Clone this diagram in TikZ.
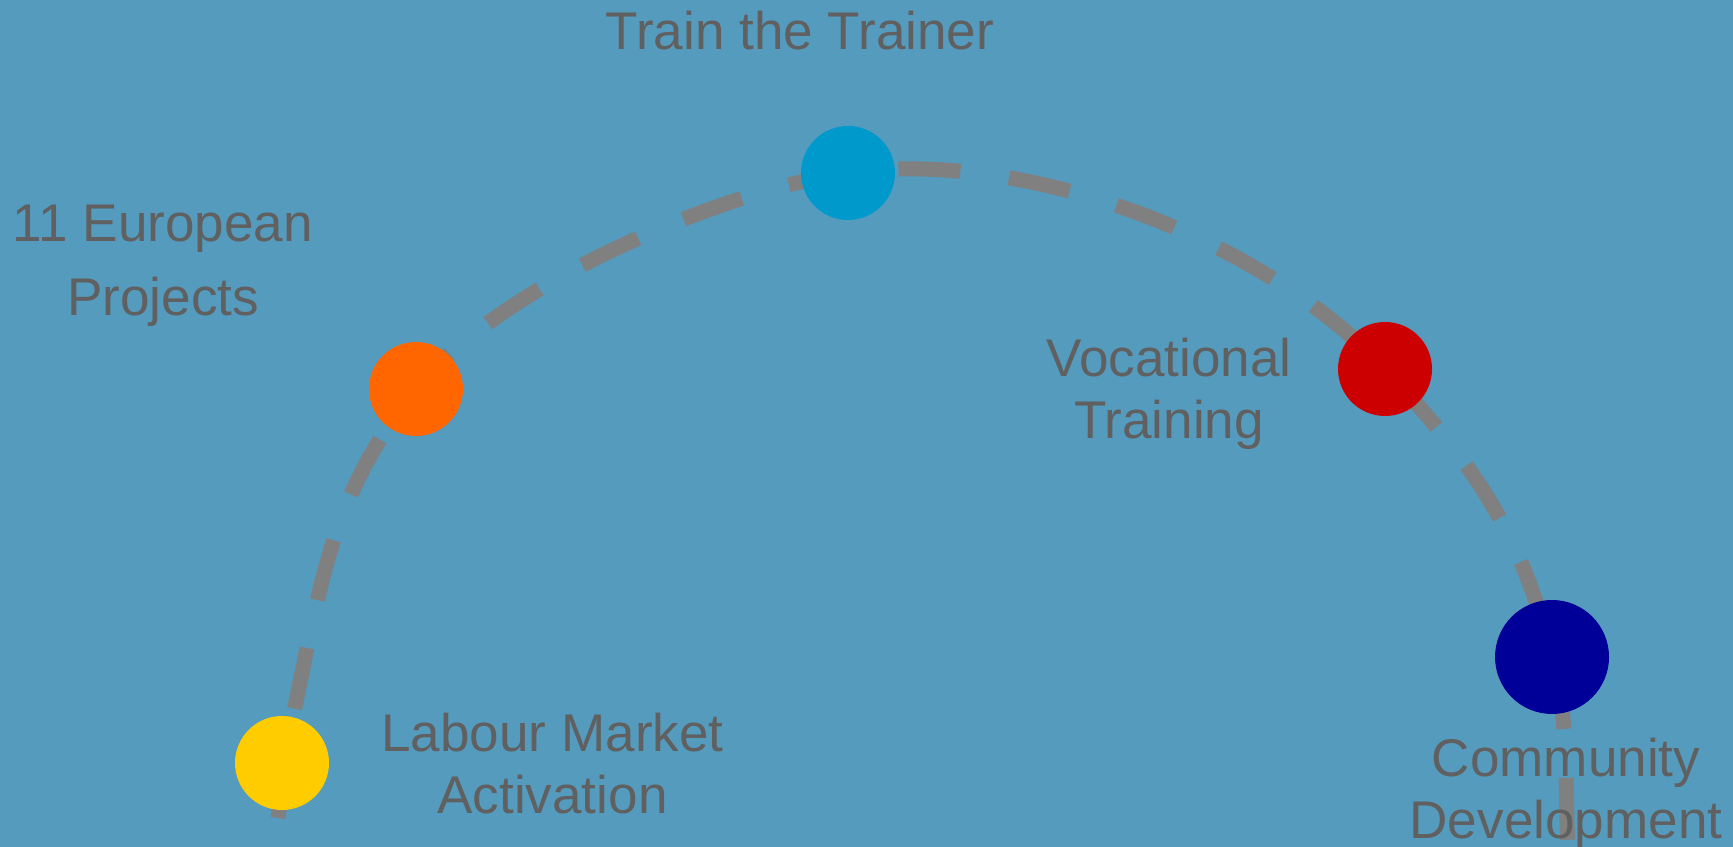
\documentclass[tikz,border=0pt]{standalone}
\usepackage{fontspec}
\setmainfont{Liberation Sans}
\usetikzlibrary{backgrounds}

\definecolor{skyback}{HTML}{559BBE}
\definecolor{labelgrey}{HTML}{606060}
\definecolor{trailgrey}{HTML}{808080}
\definecolor{dotyellow}{HTML}{FFCC00}
\definecolor{dotorange}{HTML}{FF6600}
\definecolor{dotcyan}{HTML}{0099CC}
\definecolor{dotred}{HTML}{CC0000}
\definecolor{dotnavy}{HTML}{000099}

\tikzset{
    milestone/.style={circle, minimum size=0.94cm, inner sep=0pt},
    stagetext/.style={text=labelgrey, font=\fontsize{15.1}{17.9}\selectfont, align=center, inner sep=0pt},
    trail/.style={draw=trailgrey, line width=0.15cm, dash pattern=on 0.62cm off 0.49cm}
}

\begin{document}
\begin{tikzpicture}
        \useasboundingbox (0,0) rectangle (17.33,8.47);

        % milestones
        \node[milestone, fill=dotyellow] (labour) at (2.82,0.84) {};
        \node[milestone, fill=dotorange] (european) at (4.16,4.58) {};
        \node[milestone, fill=dotcyan] (trainer) at (8.48,6.74) {};
        \node[milestone, fill=dotred] (vocational) at (13.85,4.78) {};
        \node[milestone, fill=dotnavy, minimum size=1.14cm] (community) at (15.52,1.90) {};

        % labels (base = last line)
        \node[stagetext, anchor=base] (trainertext) at (8.00,7.97) {Train the Trainer};
        \node[stagetext, anchor=base] (europeantext) at (1.63,5.31) {11 European\\[3.4pt]Projects};
        \node[stagetext, anchor=base] (vocationaltext) at (11.69,4.08) {Vocational\\Training};
        \node[stagetext, anchor=base] (labourtext) at (5.525,0.33) {Labour Market\\Activation};
        \node[stagetext, anchor=base] (communitytext) at (15.66,0.08) {Community\\Development};

        % dashed trail behind the milestones
        \coordinate (trailstart) at (2.78,0.29);
        \coordinate (trailend) at (15.69,-0.2);
        \begin{scope}[on background layer]
            \fill[skyback] (0,0) rectangle (17.33,8.47);
            \draw[trail] (trailstart) to[out=80,in=256] (labour.center)
                to[out=76,in=231] (european.center)
                to[out=51,in=188,looseness=0.7] (trainer.center)
                to[out=8,in=133,looseness=0.8] (vocational.center)
                to[out=-47,in=104] (community.center)
                to[out=-76,in=94] (trailend);
        \end{scope}
\end{tikzpicture}
\end{document}
